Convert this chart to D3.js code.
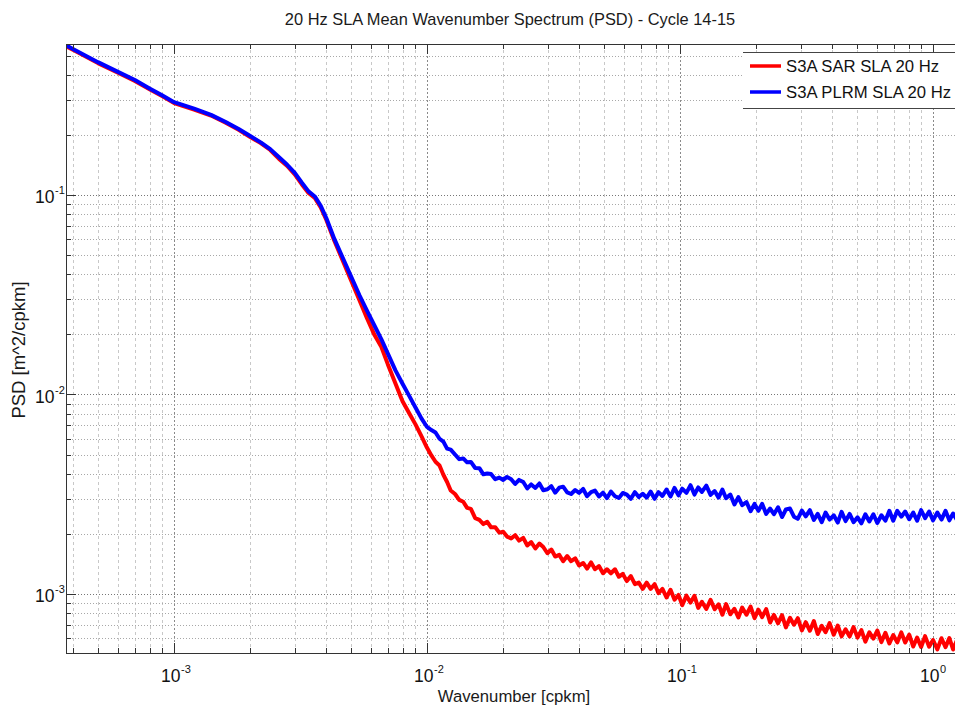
<!DOCTYPE html>
<html>
<head>
<meta charset="utf-8">
<script src="https://cdn.jsdelivr.net/npm/d3@7"></script>
<style>
  html, body { margin: 0; padding: 0; background: #fff; }
  svg { display: block; font-family: "Liberation Sans", Arial, Helvetica, sans-serif; }
</style>
</head>
<body>
<svg id="chart" width="955" height="706"></svg>
<script>
// Mean along-track wavenumber spectra, cycles 14-15 (cpkm vs m^2/cpkm)
const wavenumber = [
  3.74e-4, 4.0e-4, 5.0e-4, 6.0e-4, 7.0e-4, 8.0e-4, 9.0e-4, 1.0e-3, 1.2e-3, 1.4e-3,
  1.6e-3, 1.8e-3, 2.0e-3, 2.2e-3, 2.4e-3, 2.6e-3, 2.8e-3, 3.0e-3, 3.2e-3, 3.4e-3,
  3.6e-3, 3.8e-3, 4.0e-3, 4.3e-3, 4.6e-3, 5.0e-3, 5.4e-3, 5.8e-3, 6.2e-3, 6.6e-3,
  7.0e-3, 7.5e-3, 8.0e-3, 8.5e-3, 9.0e-3, 9.5e-3, 1.0e-2,
  0.0104, 0.0108, 0.0112, 0.0116, 0.0120, 0.0124, 0.0129, 0.0134, 0.0139, 0.0144,
  0.0149, 0.0155, 0.0161, 0.0167, 0.0173, 0.0179, 0.0186, 0.0193, 0.0200, 0.0207,
  0.0215, 0.0223, 0.0231, 0.0240, 0.0249, 0.0258, 0.0268, 0.0278, 0.0288, 0.0299,
  0.0310, 0.0321, 0.0333, 0.0345, 0.0358, 0.0371, 0.0385, 0.0399, 0.0414, 0.0429,
  0.0445, 0.0461, 0.0478, 0.0496, 0.0514, 0.0533, 0.0553, 0.0573, 0.0594, 0.0616,
  0.0639, 0.0663, 0.0687, 0.0712, 0.0738, 0.0765, 0.0793, 0.0822, 0.0852, 0.0884,
  0.0917, 0.0951, 0.0986, 0.102, 0.106, 0.110, 0.114, 0.118, 0.122, 0.127,
  0.132, 0.137, 0.142, 0.147, 0.152, 0.158, 0.164, 0.170, 0.176, 0.183,
  0.190, 0.197, 0.204, 0.211, 0.219, 0.227, 0.235, 0.244, 0.253, 0.262,
  0.272, 0.282, 0.292, 0.303, 0.314, 0.326, 0.338, 0.350, 0.363, 0.376,
  0.390, 0.405, 0.420, 0.435, 0.451, 0.468, 0.485, 0.503, 0.521, 0.540,
  0.560, 0.581, 0.602, 0.625, 0.648, 0.672, 0.696, 0.722, 0.749, 0.776,
  0.805, 0.835, 0.865, 0.897, 0.930, 0.965, 1.00, 1.04, 1.08, 1.12,
  1.16, 1.20, 1.24
];

// S3A SAR mode SLA, 20 Hz
const sarPsd = [
  0.557, 0.533, 0.458, 0.410, 0.373, 0.339, 0.312, 0.289, 0.268, 0.250,
  0.230, 0.212, 0.195, 0.182, 0.168, 0.1515, 0.1398, 0.1267, 0.1129, 0.1023,
  0.0966, 0.0866, 0.0749, 0.0590, 0.0482, 0.0375, 0.02976, 0.02395, 0.01984, 0.0173,
  0.01415, 0.01135, 0.00924, 0.00806, 0.00708, 0.00618, 0.00540,
  4.95e-3, 4.60e-3, 4.41e-3, 3.96e-3, 3.64e-3, 3.30e-3, 3.17e-3, 2.96e-3, 2.90e-3, 2.70e-3,
  2.67e-3, 2.40e-3, 2.35e-3, 2.24e-3, 2.30e-3, 2.16e-3, 2.16e-3, 2.03e-3, 2.05e-3, 1.94e-3,
  1.90e-3, 1.97e-3, 1.85e-3, 1.91e-3, 1.75e-3, 1.82e-3, 1.69e-3, 1.79e-3, 1.72e-3, 1.60e-3,
  1.67e-3, 1.54e-3, 1.57e-3, 1.46e-3, 1.55e-3, 1.46e-3, 1.51e-3, 1.39e-3, 1.43e-3, 1.34e-3,
  1.44e-3, 1.33e-3, 1.38e-3, 1.27e-3, 1.33e-3, 1.27e-3, 1.33e-3, 1.22e-3, 1.26e-3, 1.16e-3,
  1.23e-3, 1.12e-3, 1.14e-3, 1.06e-3, 1.14e-3, 1.06e-3, 1.12e-3, 1.01e-3, 1.06e-3, 0.960e-3,
  1.05e-3, 0.936e-3, 0.989e-3, 0.879e-3, 0.981e-3, 0.905e-3, 0.979e-3, 0.851e-3, 0.914e-3, 0.841e-3,
  0.935e-3, 0.838e-3, 0.888e-3, 0.787e-3, 0.890e-3, 0.791e-3, 0.843e-3, 0.763e-3, 0.855e-3, 0.787e-3,
  0.865e-3, 0.757e-3, 0.834e-3, 0.765e-3, 0.840e-3, 0.719e-3, 0.785e-3, 0.713e-3, 0.783e-3, 0.680e-3,
  0.759e-3, 0.701e-3, 0.756e-3, 0.657e-3, 0.722e-3, 0.654e-3, 0.731e-3, 0.630e-3, 0.692e-3, 0.643e-3,
  0.714e-3, 0.625e-3, 0.695e-3, 0.613e-3, 0.665e-3, 0.612e-3, 0.682e-3, 0.604e-3, 0.659e-3, 0.577e-3,
  0.642e-3, 0.597e-3, 0.656e-3, 0.574e-3, 0.639e-3, 0.565e-3, 0.623e-3, 0.572e-3, 0.642e-3, 0.571e-3,
  0.625e-3, 0.545e-3, 0.605e-3, 0.542e-3, 0.615e-3, 0.544e-3, 0.588e-3, 0.528e-3, 0.600e-3, 0.541e-3,
  0.601e-3, 0.527e-3, 0.582e-3
];

// S3A pseudo-LRM SLA, 20 Hz
const plrmPsd = [
  0.5627, 0.538, 0.463, 0.414, 0.3766, 0.3421, 0.315, 0.2918, 0.2707, 0.2521,
  0.2319, 0.2139, 0.1973, 0.1835, 0.1697, 0.1545, 0.1417, 0.1291, 0.1152, 0.1042,
  0.0983, 0.0883, 0.0764, 0.0602, 0.0497, 0.0392, 0.0315, 0.0262, 0.0221, 0.01887,
  0.01603, 0.0132, 0.01131, 0.00984, 0.00861, 0.00759, 0.00687,
  6.63e-3, 6.45e-3, 6.00e-3, 5.80e-3, 5.35e-3, 5.29e-3, 5.00e-3, 4.74e-3, 4.78e-3, 4.57e-3,
  4.59e-3, 4.28e-3, 4.27e-3, 3.98e-3, 4.02e-3, 3.99e-3, 3.76e-3, 3.83e-3, 3.73e-3, 3.86e-3,
  3.76e-3, 3.56e-3, 3.73e-3, 3.64e-3, 3.38e-3, 3.54e-3, 3.40e-3, 3.58e-3, 3.31e-3, 3.35e-3,
  3.47e-3, 3.22e-3, 3.41e-3, 3.45e-3, 3.23e-3, 3.17e-3, 3.32e-3, 3.21e-3, 3.36e-3, 3.09e-3,
  3.24e-3, 3.30e-3, 3.08e-3, 3.22e-3, 3.02e-3, 3.26e-3, 3.09e-3, 3.03e-3, 3.21e-3, 3.15e-3,
  3.00e-3, 3.24e-3, 3.06e-3, 3.18e-3, 3.04e-3, 3.26e-3, 3.00e-3, 3.24e-3, 3.10e-3, 3.34e-3,
  3.08e-3, 3.40e-3, 3.12e-3, 3.37e-3, 3.21e-3, 3.51e-3, 3.15e-3, 3.42e-3, 3.25e-3, 3.49e-3,
  3.14e-3, 3.28e-3, 3.04e-3, 3.34e-3, 3.02e-3, 3.15e-3, 2.81e-3, 3.06e-3, 2.79e-3, 2.89e-3,
  2.60e-3, 2.83e-3, 2.61e-3, 2.83e-3, 2.52e-3, 2.68e-3, 2.51e-3, 2.72e-3, 2.43e-3, 2.65e-3,
  2.68e-3, 2.44e-3, 2.38e-3, 2.62e-3, 2.45e-3, 2.63e-3, 2.35e-3, 2.52e-3, 2.29e-3, 2.56e-3,
  2.36e-3, 2.48e-3, 2.28e-3, 2.58e-3, 2.32e-3, 2.52e-3, 2.29e-3, 2.42e-3, 2.26e-3, 2.51e-3,
  2.31e-3, 2.51e-3, 2.27e-3, 2.48e-3, 2.33e-3, 2.61e-3, 2.33e-3, 2.61e-3, 2.44e-3, 2.59e-3,
  2.37e-3, 2.56e-3, 2.33e-3, 2.63e-3, 2.40e-3, 2.59e-3, 2.34e-3, 2.56e-3, 2.36e-3, 2.61e-3,
  2.34e-3, 2.53e-3, 2.36e-3
];

const seriesNames = ["S3A SAR SLA 20 Hz", "S3A PLRM SLA 20 Hz"];
const seriesColors = ["#ff0000", "#0000ff"];
const xTickExponents = [-3, -2, -1, 0];
const yTickExponents = [-1, -2, -3];
const titleText = "20 Hz SLA Mean Wavenumber Spectrum (PSD) - Cycle 14-15";
const xLabelText = "Wavenumber [cpkm]";
const yLabelText = "PSD [m^2/cpkm]";

const svg = d3.select("#chart");
const plot = { left: 66, top: 44, right: 960, bottom: 653 };

const x = d3.scaleLog().domain([3.74e-4, 1.278]).range([plot.left, plot.right]);
const y = d3.scaleLog().domain([5.06e-4, 0.571]).range([plot.bottom, plot.top]);

const isDecade = v => Math.abs(Math.log10(v) - Math.round(Math.log10(v))) < 1e-9;

// grid
const gGrid = svg.append("g");
x.ticks().forEach(t => {
  const major = isDecade(t);
  gGrid.append("line")
    .attr("x1", Math.round(x(t)) + 0.5).attr("x2", Math.round(x(t)) + 0.5)
    .attr("y1", plot.top).attr("y2", plot.bottom)
    .attr("stroke", major ? "#8a8a8a" : "#c8c8c8")
    .attr("stroke-width", 1)
    .attr("stroke-dasharray", major ? "2,2" : "3,3");
});
y.ticks().forEach(t => {
  const major = isDecade(t);
  gGrid.append("line")
    .attr("x1", plot.left).attr("x2", plot.right)
    .attr("y1", Math.round(y(t)) + 0.5).attr("y2", Math.round(y(t)) + 0.5)
    .attr("stroke", major ? "#777" : "#a8a8a8")
    .attr("stroke-width", 1)
    .attr("stroke-dasharray", "1,2");
});

// curves
svg.append("clipPath").attr("id", "clip")
  .append("rect")
  .attr("x", plot.left).attr("y", plot.top)
  .attr("width", plot.right - plot.left).attr("height", plot.bottom - plot.top);

const line = d3.line()
  .x(d => x(d[0]))
  .y(d => y(d[1]));

const gLines = svg.append("g").attr("clip-path", "url(#clip)");
[sarPsd, plrmPsd].forEach((vals, i) => {
  gLines.append("path")
    .datum(wavenumber.map((k, j) => [k, vals[j]]))
    .attr("d", line)
    .attr("fill", "none")
    .attr("stroke", seriesColors[i])
    .attr("stroke-width", 4)
    .attr("stroke-linejoin", "round");
});

// frame and ticks
const gAxes = svg.append("g").attr("stroke", "#333").attr("stroke-width", 1);
gAxes.append("line").attr("x1", plot.left).attr("x2", plot.right).attr("y1", plot.top + 0.5).attr("y2", plot.top + 0.5);
gAxes.append("line").attr("x1", plot.left).attr("x2", plot.right).attr("y1", plot.bottom + 0.5).attr("y2", plot.bottom + 0.5);
gAxes.append("line").attr("x1", plot.left + 0.5).attr("x2", plot.left + 0.5).attr("y1", plot.top).attr("y2", plot.bottom + 1);

x.ticks().forEach(t => {
  const len = isDecade(t) ? 10 : 5;
  const px = Math.round(x(t)) + 0.5;
  gAxes.append("line").attr("x1", px).attr("x2", px).attr("y1", plot.bottom).attr("y2", plot.bottom - len);
  gAxes.append("line").attr("x1", px).attr("x2", px).attr("y1", plot.top).attr("y2", plot.top + len);
});
y.ticks().forEach(t => {
  const len = isDecade(t) ? 10 : 5;
  const py = Math.round(y(t)) + 0.5;
  gAxes.append("line").attr("x1", plot.left).attr("x2", plot.left + len).attr("y1", py).attr("y2", py);
});

// tick labels: "10" with a raised exponent
const gLabels = svg.append("g").attr("fill", "#111");
function powerLabel(left, baseline, exponent) {
  const t = gLabels.append("text")
    .attr("x", left).attr("y", baseline)
    .attr("font-size", 17.5);
  t.append("tspan").text("10");
  t.append("tspan")
    .attr("dx", 0.5).attr("dy", -9)
    .attr("font-size", 11)
    .text(String(exponent));
}
xTickExponents.forEach(e => {
  powerLabel(x(Math.pow(10, e)) - 13, 682, e);
});
yTickExponents.forEach(e => {
  powerLabel(35, y(Math.pow(10, e)) + 8.5, e);
});

// titles
svg.append("text")
  .attr("x", 510).attr("y", 25)
  .attr("text-anchor", "middle")
  .attr("font-size", 16.4)
  .attr("fill", "#1a1a1a")
  .text(titleText);

svg.append("text")
  .attr("x", 514).attr("y", 702)
  .attr("text-anchor", "middle")
  .attr("font-size", 16.7)
  .attr("fill", "#1a1a1a")
  .text(xLabelText);

svg.append("text")
  .attr("transform", "translate(25,350) rotate(-90)")
  .attr("text-anchor", "middle")
  .attr("font-size", 18.5)
  .attr("fill", "#1a1a1a")
  .text(yLabelText);

// legend
const gLegend = svg.append("g");
gLegend.append("rect")
  .attr("x", 743).attr("y", 52).attr("width", 220).attr("height", 57)
  .attr("fill", "#fff");
gLegend.append("line").attr("x1", 743).attr("x2", 960).attr("y1", 52.5).attr("y2", 52.5).attr("stroke", "#444");
gLegend.append("line").attr("x1", 743).attr("x2", 960).attr("y1", 108.5).attr("y2", 108.5).attr("stroke", "#444");
seriesNames.forEach((name, i) => {
  const cy = 66 + i * 26;
  gLegend.append("line")
    .attr("x1", 750).attr("x2", 781)
    .attr("y1", cy).attr("y2", cy)
    .attr("stroke", seriesColors[i]).attr("stroke-width", 3.5);
  gLegend.append("text")
    .attr("x", 786).attr("y", cy + 6)
    .attr("font-size", 16.7)
    .attr("fill", "#111")
    .text(name);
});
</script>
</body>
</html>
